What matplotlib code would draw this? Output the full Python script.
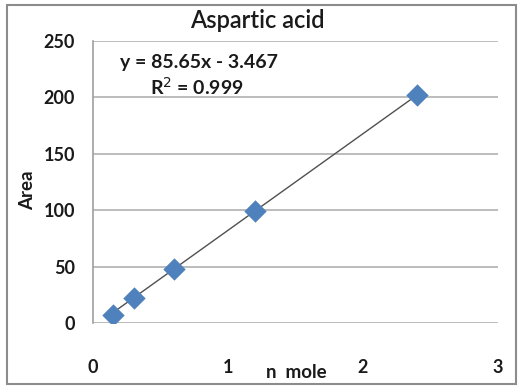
import numpy as np
import matplotlib.pyplot as plt
from matplotlib.patches import Rectangle

plt.rcParams['font.family'] = ['Lato', 'DejaVu Sans']

# calibration data
n_mole = [0.15, 0.3, 0.6, 1.2, 2.4]
area = [7, 22, 48, 99, 202]
slope = 85.65
intercept = -3.467
r2 = 0.999

fig = plt.figure(figsize=(5.2, 3.87), dpi=100)
ax = fig.add_axes([93/520, 1-323/387, 405/520, 282/387])

# outer chart border
fig.patches.append(Rectangle((7/520, 3/387), 509/520, 379/387, transform=fig.transFigure,
                             fill=False, edgecolor='#8c8c8c', linewidth=1.5))

ax.set_xlim(0, 3)
ax.set_ylim(0, 250)
ax.set_yticks(np.arange(0, 251, 50))
ax.set_xticks([0, 1, 2, 3])
ax.grid(axis='y', color='#b0b0b0', linewidth=1.2)
ax.set_axisbelow(True)
for s in ['top', 'right', 'bottom']:
    ax.spines[s].set_visible(False)
ax.spines['left'].set_color('#a0a0a0')
ax.spines['left'].set_linewidth(1.2)
ax.tick_params(axis='both', length=0, labelsize=13, colors='#1a1a1a')
ax.tick_params(axis='y', pad=13)
ax.tick_params(axis='x', pad=26)
for lbl in ax.get_xticklabels() + ax.get_yticklabels():
    lbl.set_fontweight('bold')

# linear trendline
xs = np.array([n_mole[0], n_mole[-1]])
ax.plot(xs, slope*xs + intercept, color='#505050', linewidth=1.0, zorder=2)
ax.scatter(n_mole, area, marker='D', s=130, color='#4f81bd', zorder=3, linewidths=0)

ax.text(0.262, 0.925, 'y = 85.65x - 3.467', transform=ax.transAxes, fontsize=14,
        fontweight='bold', ha='center', va='center', color='#1a1a1a')
ax.text(0.257, 0.837, 'R$^2$ = 0.999', transform=ax.transAxes, fontsize=14,
        fontweight='bold', ha='center', va='center', color='#1a1a1a')

fig.text(257/520, 1-20/387, 'Aspartic acid', fontsize=17, fontweight='semibold',
         ha='center', va='center', color='#1a1a1a')
fig.text(296/520, 1-372/387, 'n  mole', fontsize=13.5, fontweight='bold', ha='center', va='center', color='#1a1a1a')
fig.text(28/520, 1-190/387, 'Area', fontsize=13.5, fontweight='bold', rotation=90, ha='center', va='center', color='#1a1a1a')

fig.savefig('out.png', dpi=100)
